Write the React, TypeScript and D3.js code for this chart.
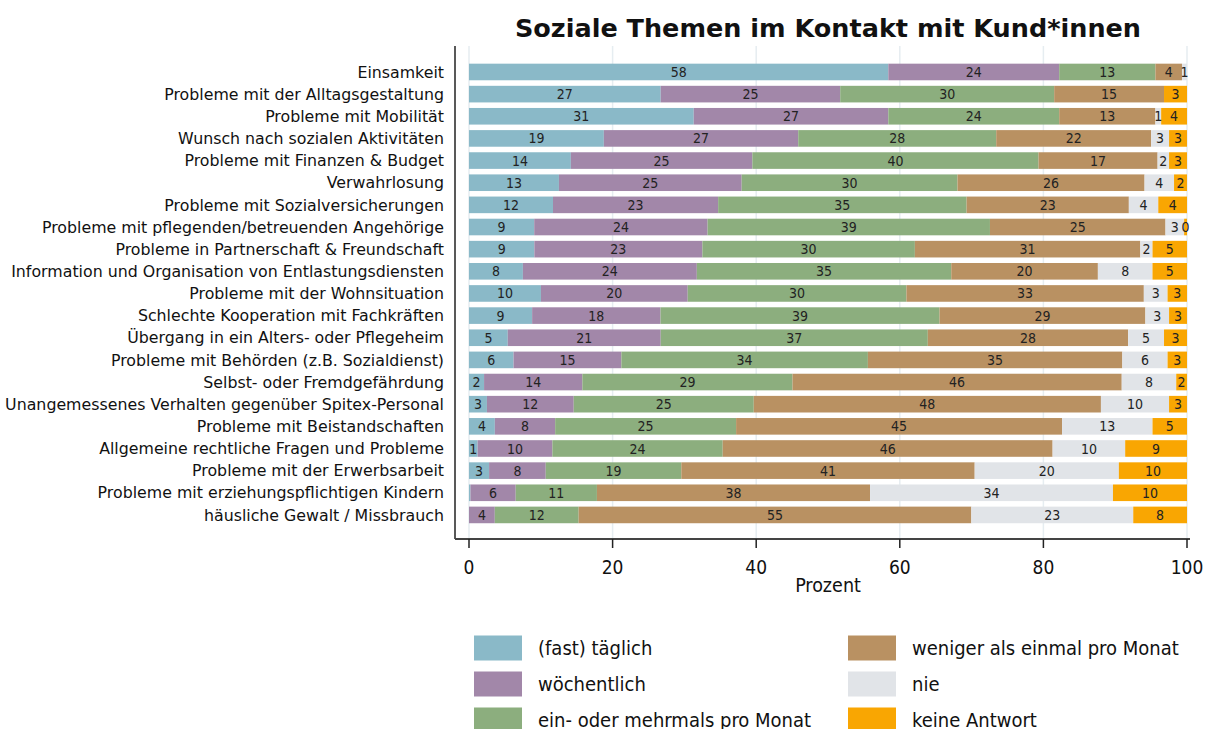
import React from "react";
import * as d3 from "d3";

// Themen (von oben nach unten)
const topics = [
  "Einsamkeit",
  "Probleme mit der Alltagsgestaltung",
  "Probleme mit Mobilität",
  "Wunsch nach sozialen Aktivitäten",
  "Probleme mit Finanzen & Budget",
  "Verwahrlosung",
  "Probleme mit Sozialversicherungen",
  "Probleme mit pflegenden/betreuenden Angehörige",
  "Probleme in Partnerschaft & Freundschaft",
  "Information und Organisation von Entlastungsdiensten",
  "Probleme mit der Wohnsituation",
  "Schlechte Kooperation mit Fachkräften",
  "Übergang in ein Alters- oder Pflegeheim",
  "Probleme mit Behörden (z.B. Sozialdienst)",
  "Selbst- oder Fremdgefährdung",
  "Unangemessenes Verhalten gegenüber Spitex-Personal",
  "Probleme mit Beistandschaften",
  "Allgemeine rechtliche Fragen und Probleme",
  "Probleme mit der Erwerbsarbeit",
  "Probleme mit erziehungspflichtigen Kindern",
  "häusliche Gewalt / Missbrauch",
];

const categories = [
  "(fast) täglich",
  "wöchentlich",
  "ein- oder mehrmals pro Monat",
  "weniger als einmal pro Monat",
  "nie",
  "keine Antwort",
];

const colors = ["#8ab9c8", "#a287a9", "#8cae7e", "#b99162", "#e1e4e8", "#f9a602"];

// Prozent je Kategorie, Reihenfolge wie topics
const taeglich = [58.4, 26.7, 31.3, 18.8, 14.2, 12.5, 11.7, 9.1, 9.1, 7.5, 10.0, 8.8, 5.4, 6.2, 2.1, 2.5, 3.6, 1.2, 2.8, 0.2, 0];
const woechentlich = [23.8, 25.0, 27.1, 27.1, 25.3, 25.4, 23.0, 24.2, 23.4, 24.2, 20.4, 17.9, 21.3, 15.0, 13.7, 12.1, 8.4, 10.4, 7.9, 6.3, 3.6];
const monatlich = [13.4, 29.8, 23.8, 27.6, 39.9, 30.0, 34.6, 39.4, 29.6, 35.4, 30.4, 38.9, 37.2, 34.3, 29.3, 25.1, 25.2, 23.7, 18.9, 11.3, 11.7];
const seltener = [3.7, 15.3, 13.4, 21.6, 16.6, 26.0, 22.6, 24.5, 31.4, 20.4, 33.0, 28.7, 27.9, 35.4, 45.9, 48.4, 45.4, 45.9, 40.9, 38.0, 54.8];
const nie = [0.7, 0, 0.8, 2.5, 1.6, 4.1, 4.1, 2.6, 1.7, 7.6, 3.3, 3.3, 5.0, 6.3, 7.6, 9.5, 12.6, 10.1, 20.1, 33.8, 22.6];
const keineAntwort = [0, 3.2, 3.6, 2.5, 2.5, 1.8, 4.0, 0.4, 4.8, 4.8, 2.7, 2.5, 3.2, 2.7, 1.5, 2.5, 4.8, 8.6, 9.5, 10.3, 7.5];

const xTicks = [0, 20, 40, 60, 80, 100];

const W = 1205;
const H = 729;
const condensed = "'DejaVu Sans Condensed', 'DejaVu Sans', sans-serif";

export default function App() {
  const series = [taeglich, woechentlich, monatlich, seltener, nie, keineAntwort];

  const x = d3.scaleLinear().domain([0, 100]).range([469, 1187]);
  const y = d3
    .scaleBand<string>()
    .domain(topics)
    .range([60.9, 526])
    .paddingInner(0.25)
    .paddingOuter(0.125);

  const rows = topics.map((t, i) => {
    const vals = series.map((s) => s[i]);
    const total = d3.sum(vals);
    let acc = 0;
    return vals.map((v, k) => {
      const start = (acc / total) * 100;
      acc += v;
      const end = (acc / total) * 100;
      return { topic: t, k, v, start, end };
    });
  });

  const axisY = 539;

  return (
    <svg width={W} height={H} style={{ display: "block", position: "absolute", left: 0, top: 0 }}>
      <rect width={W} height={H} fill="#fff" />
      <text
        x={828}
        y={37}
        textAnchor="middle"
        fontFamily="'DejaVu Sans', sans-serif"
        fontWeight="bold"
        fontSize={25.5}
        fill="#111"
      >
        Soziale Themen im Kontakt mit Kund*innen
      </text>

      {/* Gitterlinien */}
      {xTicks.map((t) => (
        <line key={t} x1={x(t)} x2={x(t)} y1={46} y2={axisY} stroke="#e6edf1" strokeWidth={1.5} />
      ))}

      {/* Balken */}
      {rows.map((segs) =>
        segs.map((d) =>
          d.v > 0 ? (
            <rect
              key={d.topic + d.k}
              x={x(d.start)}
              y={y(d.topic)}
              width={x(d.end) - x(d.start)}
              height={y.bandwidth()}
              fill={colors[d.k]}
            />
          ) : null
        )
      )}
      {rows.map((segs) =>
        segs.map((d) =>
          d.v >= 0.3 ? (
            <text
              key={"l" + d.topic + d.k}
              x={x((d.start + d.end) / 2)}
              y={(y(d.topic) as number) + y.bandwidth() / 2}
              dy="0.36em"
              textAnchor="middle"
              fontFamily={condensed}
              fontSize={14}
              fill="#222"
            >
              {Math.round(d.v)}
            </text>
          ) : null
        )
      )}

      {/* Kategorien */}
      {topics.map((t) => (
        <text
          key={t}
          x={444}
          y={(y(t) as number) + y.bandwidth() / 2}
          dy="0.36em"
          textAnchor="end"
          fontFamily="'DejaVu Sans', sans-serif"
          fontSize={15.8}
          fill="#111"
        >
          {t}
        </text>
      ))}

      {/* Achsen */}
      <line x1={455} x2={455} y1={46} y2={axisY} stroke="#222" strokeWidth={1.5} />
      <line x1={455} x2={1190} y1={axisY} y2={axisY} stroke="#444" strokeWidth={2} />
      {xTicks.map((t) => (
        <g key={"t" + t}>
          <line x1={x(t)} x2={x(t)} y1={axisY} y2={axisY + 9} stroke="#222" strokeWidth={1.5} />
          <text
            x={x(t)}
            y={574}
            textAnchor="middle"
            fontFamily={condensed}
            fontSize={19}
            fill="#111"
          >
            {t}
          </text>
        </g>
      ))}
      <text x={828} y={592} textAnchor="middle" fontFamily={condensed} fontSize={19.5} fill="#111">
        Prozent
      </text>

      {/* Legende */}
      {categories.map((c, i) => {
        const col = Math.floor(i / 3);
        const row = i % 3;
        const sx = col === 0 ? 474 : 848;
        const cy = 648 + row * 36;
        return (
          <g key={c}>
            <rect x={sx} y={cy - 12.5} width={48} height={25} fill={colors[i]} />
            <text
              x={sx + 64}
              y={cy}
              dy="0.36em"
              fontFamily={condensed}
              fontSize={20}
              fill="#111"
            >
              {c}
            </text>
          </g>
        );
      })}
    </svg>
  );
}
